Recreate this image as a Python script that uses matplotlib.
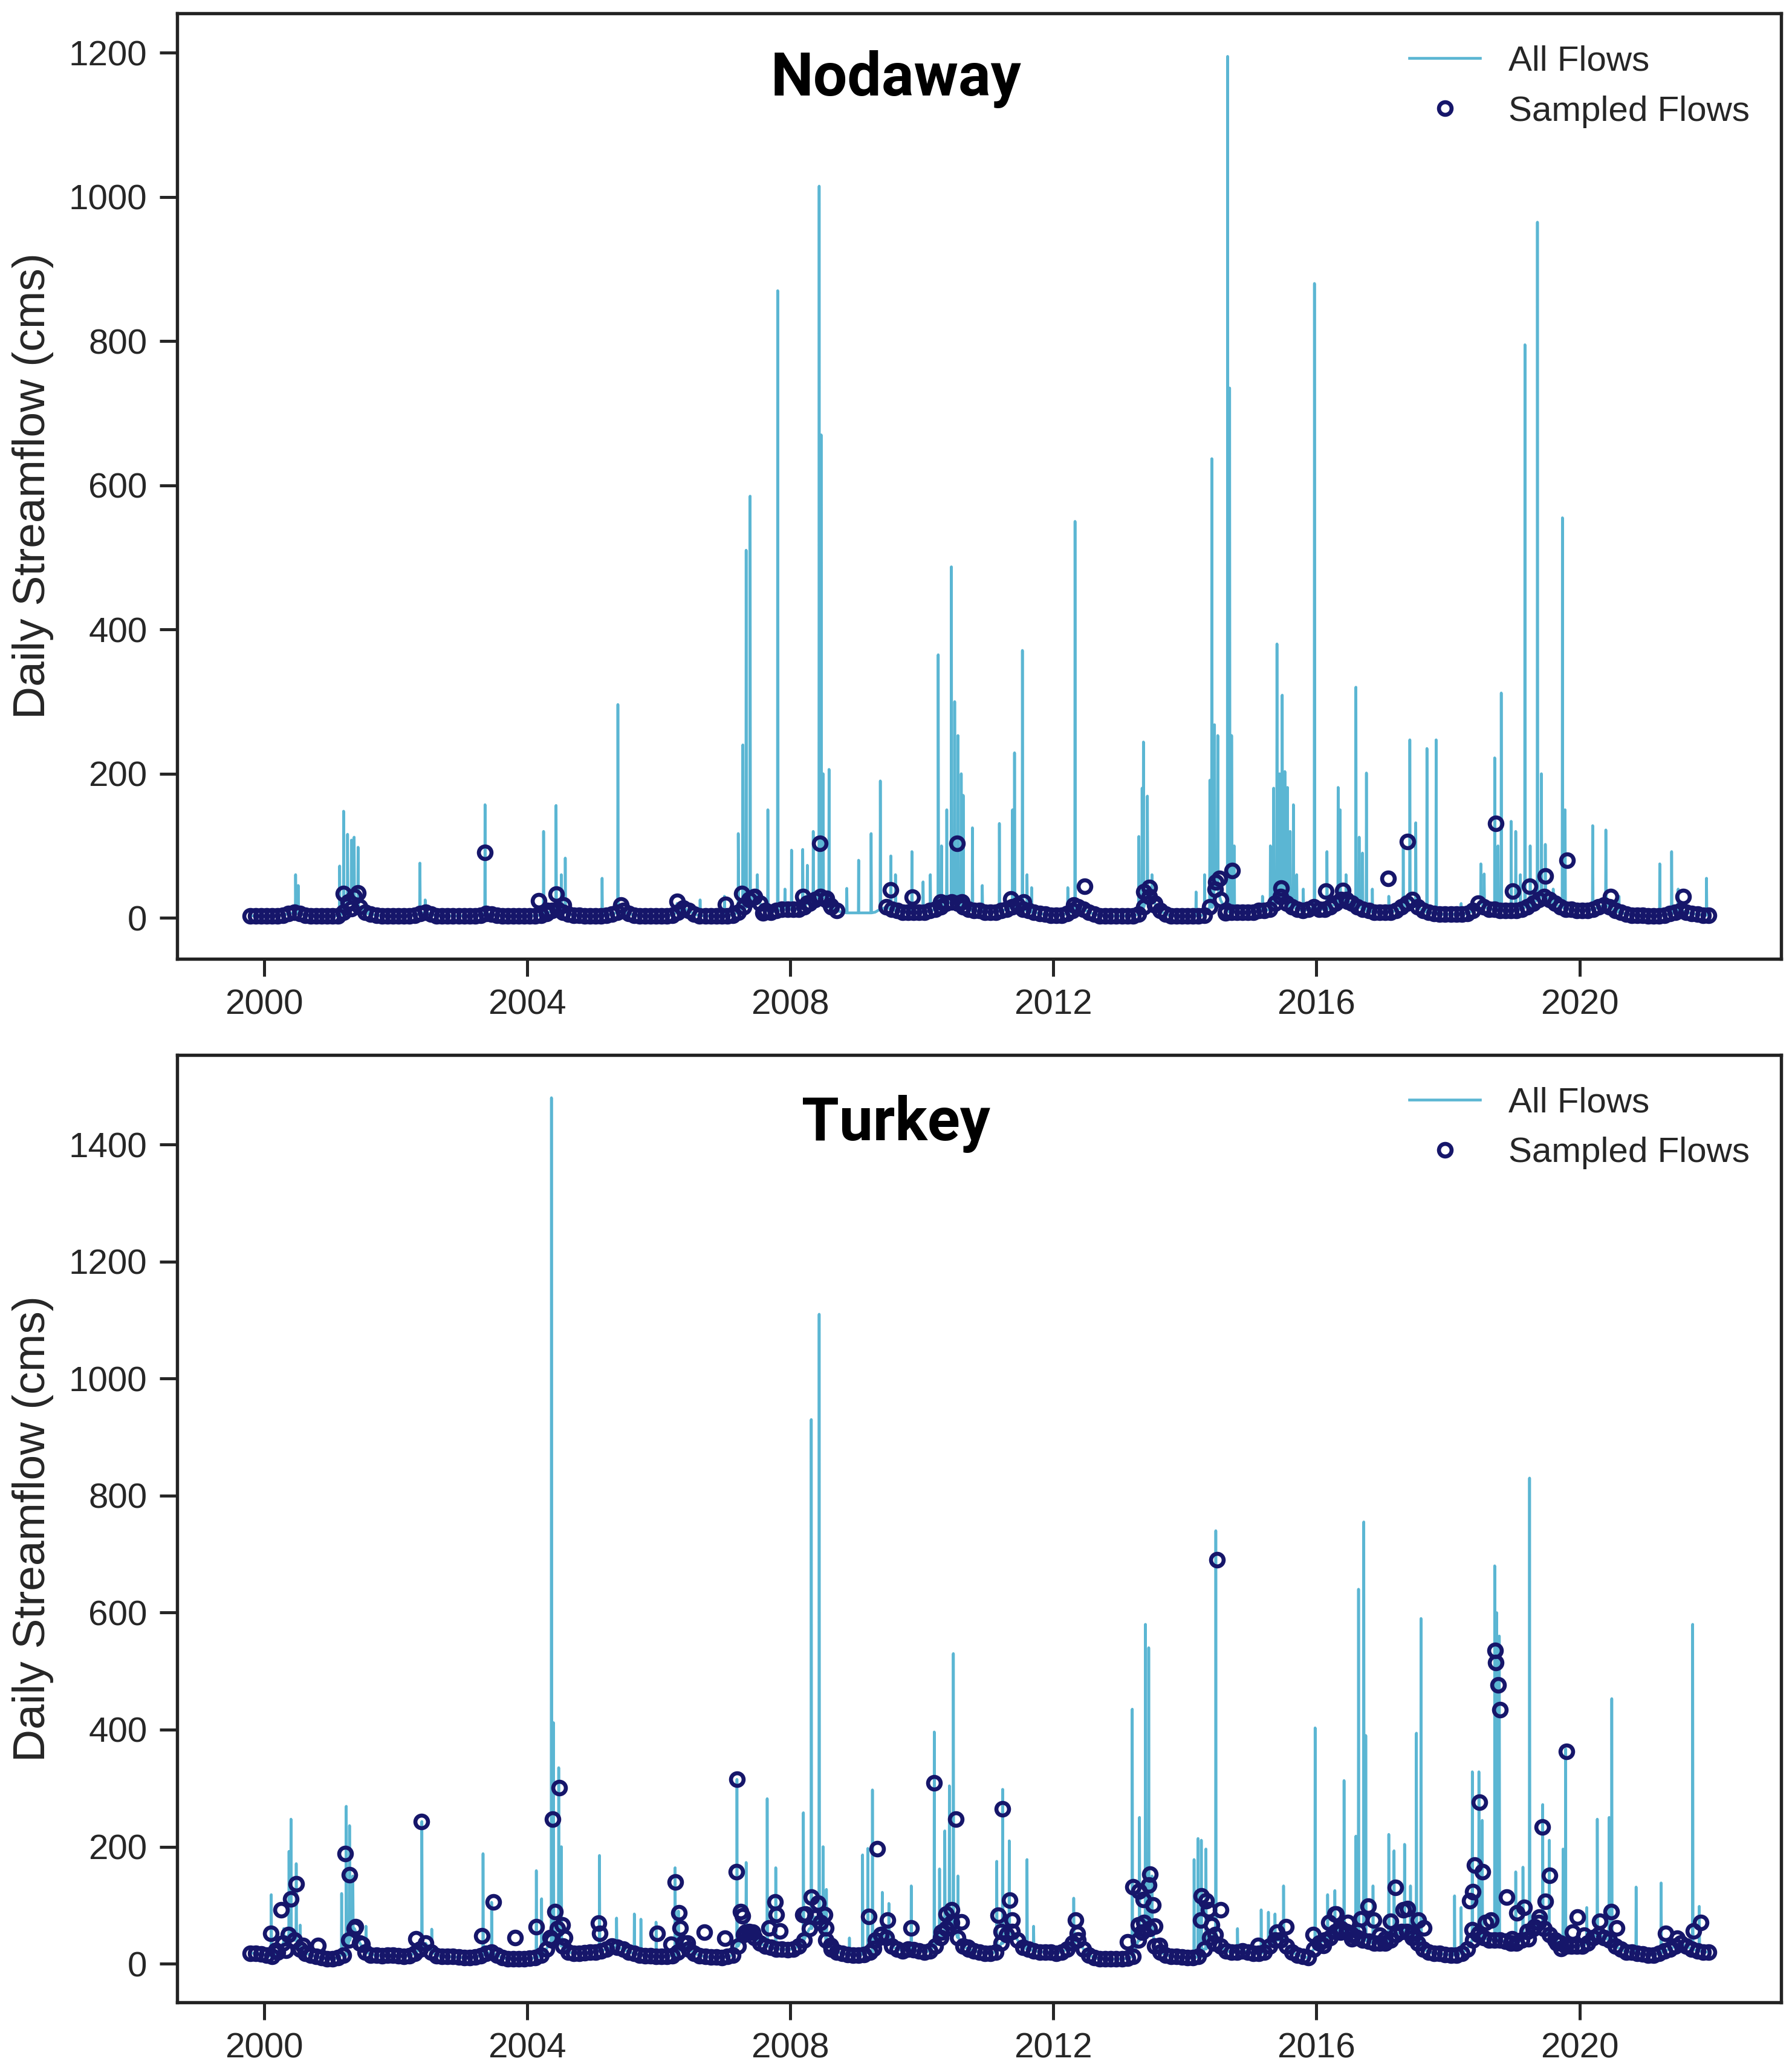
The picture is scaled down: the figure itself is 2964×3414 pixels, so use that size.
import numpy as np
import matplotlib
matplotlib.use("Agg")
import matplotlib.pyplot as plt
from matplotlib.ticker import MultipleLocator, FormatStrFormatter

plt.rcParams['font.family'] = ['Liberation Sans', 'DejaVu Sans']

# ---- Nodaway: monthly base flow (cms), Oct 1999 .. Dec 2021 ----
nod_base = [
    [3, 3, 3],                                      # 1999 Oct-Dec
    [3, 3, 3, 4, 6, 8, 6, 4, 3, 3, 3, 3],           # 2000
    [3, 3, 8, 20, 30, 15, 8, 5, 4, 3, 3, 3],        # 2001
    [3, 3, 3, 4, 6, 8, 5, 3, 3, 3, 3, 3],           # 2002
    [3, 3, 3, 4, 6, 5, 4, 3, 3, 3, 3, 3],           # 2003
    [3, 3, 4, 6, 10, 12, 8, 5, 4, 4, 3, 3],         # 2004
    [3, 3, 4, 5, 8, 10, 6, 4, 3, 3, 3, 3],          # 2005
    [3, 3, 4, 8, 14, 10, 5, 3, 3, 3, 3, 3],         # 2006
    [3, 4, 8, 15, 25, 30, 20, 10, 8, 10, 12, 12],   # 2007
    [12, 12, 15, 20, 25, 30, 25, 15, 10, 8, 7, 7],  # 2008
    [7, 7, 7, 8, 12, 15, 12, 10, 8, 8, 8, 8],       # 2009
    [8, 10, 12, 15, 20, 22, 20, 15, 12, 10, 10, 8], # 2010
    [8, 8, 10, 12, 15, 18, 12, 10, 8, 6, 5, 4],     # 2011
    [4, 4, 6, 10, 15, 12, 8, 5, 3, 3, 3, 3],        # 2012
    [3, 3, 3, 5, 15, 30, 20, 10, 5, 3, 3, 3],       # 2013
    [3, 3, 3, 4, 15, 40, 25, 10, 8, 8, 8, 8],       # 2014
    [8, 10, 10, 12, 20, 30, 20, 15, 12, 10, 12, 15],# 2015
    [12, 12, 15, 20, 25, 25, 20, 15, 12, 10, 8, 8], # 2016
    [8, 8, 10, 15, 20, 25, 15, 10, 8, 6, 5, 5],     # 2017
    [5, 5, 5, 6, 10, 20, 15, 12, 12, 10, 10, 10],   # 2018
    [10, 12, 15, 20, 25, 30, 25, 20, 15, 12, 12, 10],# 2019
    [10, 10, 12, 15, 18, 15, 10, 8, 5, 4, 4, 4],    # 2020
    [3, 3, 3, 4, 6, 8, 10, 8, 6, 5, 4, 4],          # 2021
]
# months with no samples (decimal-year ranges)
nod_no_sample = [(2008.72, 2009.40)]

nod_peak_x = [2000.48, 2000.52, 2001.15, 2001.21, 2001.27, 2001.33, 2001.37, 2001.43, 2001.60,
              2002.37, 2002.45, 2003.36, 2004.25, 2004.44, 2004.52, 2004.58, 2005.14, 2005.38,
              2006.28, 2006.63, 2007.00, 2007.21, 2007.28, 2007.33, 2007.39, 2007.50, 2007.66,
              2007.81, 2007.92, 2008.02, 2008.19, 2008.26, 2008.35, 2008.44, 2008.47, 2008.50,
              2008.59, 2008.86, 2009.04, 2009.23, 2009.37, 2009.53, 2009.60, 2009.85, 2010.02,
              2010.13, 2010.25, 2010.30, 2010.38, 2010.45, 2010.50, 2010.55, 2010.60, 2010.63,
              2010.77, 2010.92, 2011.18, 2011.38, 2011.41, 2011.53, 2011.60, 2011.67, 2012.22,
              2012.33, 2013.30, 2013.35, 2013.37, 2013.43, 2013.50, 2014.17, 2014.30, 2014.38,
              2014.41, 2014.45, 2014.50, 2014.65, 2014.68, 2014.71, 2014.75, 2015.18, 2015.30,
              2015.35, 2015.40, 2015.44, 2015.48, 2015.52, 2015.56, 2015.60, 2015.65, 2015.70,
              2015.80, 2015.97, 2016.16, 2016.33, 2016.36, 2016.45, 2016.60, 2016.65, 2016.70,
              2016.76, 2016.85, 2017.10, 2017.32, 2017.42, 2017.51, 2017.68, 2017.82, 2018.20,
              2018.50, 2018.55, 2018.71, 2018.76, 2018.81, 2018.96, 2019.03, 2019.10, 2019.17,
              2019.25, 2019.36, 2019.42, 2019.48, 2019.60, 2019.74, 2019.78, 2020.20, 2020.40,
              2020.60, 2021.22, 2021.40, 2021.50, 2021.93]
nod_peak_y = [60, 45, 72, 148, 116, 108, 112, 98, 15,
              76, 25, 157, 120, 156, 60, 83, 55, 296,
              20, 25, 30, 117, 240, 510, 585, 60, 150,
              870, 40, 94, 95, 73, 120, 1015, 670, 200,
              206, 41, 80, 117, 190, 86, 60, 92, 50,
              60, 365, 100, 150, 487, 300, 253, 200, 170,
              125, 45, 131, 150, 229, 371, 60, 42, 42,
              550, 113, 180, 244, 169, 60, 36, 60, 191,
              637, 268, 253, 1195, 735, 253, 100, 30, 100,
              180, 380, 200, 309, 203, 181, 120, 157, 60,
              40, 880, 92, 181, 150, 60, 320, 112, 90,
              201, 40, 30, 100, 247, 132, 235, 247, 20,
              75, 61, 222, 100, 312, 134, 120, 60, 795,
              100, 965, 200, 102, 40, 555, 150, 128, 122,
              30, 75, 92, 40, 55]

nod_samp_x = [2001.21, 2001.28, 2001.33, 2001.43, 2003.36, 2004.18, 2004.30, 2004.44, 2004.55,
              2005.43, 2006.28, 2007.02, 2007.26, 2007.45, 2007.59, 2008.19, 2008.26, 2008.45,
              2008.55, 2008.62, 2009.53, 2009.86, 2010.29, 2010.54, 2010.61, 2011.35, 2011.55,
              2012.31, 2012.48, 2013.38, 2013.46, 2013.54, 2014.47, 2014.53, 2014.62, 2014.72,
              2015.46, 2016.14, 2016.40, 2016.47, 2017.09, 2017.38, 2018.73, 2018.98, 2019.24,
              2019.48, 2019.81, 2020.47, 2021.58]
nod_samp_y = [34, 22, 13, 35, 91, 24, 10, 33, 18,
              18, 23, 19, 34, 29, 7, 30, 20, 103,
              27, 17, 39, 29, 22, 103, 22, 26, 22,
              18, 44, 36, 42, 18, 50, 55, 7, 66,
              41, 37, 38, 23, 55, 106, 131, 37, 44,
              58, 80, 30, 30]

# ---- Turkey: monthly base flow (cms), Oct 1999 .. Dec 2021 ----
tur_base = [
    [18, 18, 17],                                        # 1999 Oct-Dec
    [15, 12, 20, 35, 50, 40, 25, 18, 15, 12, 10, 8],     # 2000
    [8, 10, 15, 40, 60, 35, 20, 15, 15, 14, 15, 15],     # 2001
    [14, 13, 14, 18, 25, 35, 20, 14, 12, 12, 12, 11],    # 2002
    [10, 10, 11, 14, 18, 20, 15, 10, 8, 8, 8, 8],        # 2003
    [9, 10, 15, 25, 40, 60, 30, 20, 18, 18, 19, 20],     # 2004
    [20, 22, 25, 30, 28, 25, 20, 18, 15, 14, 14, 13],    # 2005
    [12, 12, 14, 20, 35, 25, 18, 14, 12, 11, 11, 10],    # 2006
    [12, 15, 30, 50, 55, 45, 35, 30, 28, 25, 25, 24],    # 2007
    [25, 30, 40, 60, 80, 70, 40, 25, 20, 18, 16, 15],    # 2008
    [15, 16, 20, 40, 50, 45, 30, 25, 22, 25, 24, 22],    # 2009
    [20, 22, 30, 45, 60, 70, 45, 30, 25, 22, 20, 18],    # 2010
    [18, 20, 35, 50, 55, 40, 28, 25, 22, 20, 20, 20],    # 2011
    [18, 20, 25, 35, 40, 25, 15, 10, 8, 8, 8, 8],        # 2012
    [8, 9, 12, 40, 70, 60, 30, 20, 15, 13, 12, 11],      # 2013
    [10, 10, 12, 25, 45, 50, 30, 22, 20, 20, 22, 20],    # 2014
    [18, 18, 20, 30, 40, 40, 30, 20, 15, 12, 10, 25],    # 2015
    [35, 40, 45, 55, 60, 55, 50, 45, 40, 38, 35, 35],    # 2016
    [35, 40, 50, 55, 55, 45, 35, 25, 20, 18, 18, 16],    # 2017
    [15, 15, 18, 25, 40, 50, 45, 40, 40, 40, 38, 35],    # 2018
    [35, 40, 55, 60, 70, 60, 50, 40, 35, 30, 30, 30],    # 2019
    [30, 35, 45, 50, 45, 40, 30, 25, 20, 20, 18, 17],    # 2020
    [15, 15, 18, 22, 25, 30, 35, 30, 25, 22, 20, 20],    # 2021
]
tur_no_sample = []

tur_peak_x = [2000.11, 2000.30, 2000.38, 2000.41, 2000.49, 2000.55, 2001.18, 2001.25, 2001.30,
              2001.35, 2001.55, 2002.40, 2002.55, 2003.33, 2003.46, 2004.14, 2004.22, 2004.37,
              2004.40, 2004.48, 2004.52, 2005.10, 2005.36, 2005.63, 2005.73, 2005.96, 2006.25,
              2006.30, 2007.19, 2007.33, 2007.65, 2007.78, 2008.20, 2008.32, 2008.44, 2008.50,
              2008.55, 2008.90, 2009.10, 2009.18, 2009.25, 2009.40, 2009.50, 2009.84, 2010.19,
              2010.27, 2010.35, 2010.42, 2010.48, 2010.55, 2011.14, 2011.23, 2011.33, 2011.60,
              2011.70, 2012.31, 2013.20, 2013.31, 2013.40, 2013.45, 2013.50, 2014.14, 2014.20,
              2014.25, 2014.32, 2014.47, 2014.80, 2015.16, 2015.27, 2015.37, 2015.50, 2015.98,
              2016.17, 2016.28, 2016.42, 2016.60, 2016.64, 2016.72, 2016.75, 2016.86, 2017.10,
              2017.18, 2017.34, 2017.43, 2017.52, 2017.59, 2018.10, 2018.20, 2018.37, 2018.47,
              2018.52, 2018.71, 2018.74, 2018.78, 2019.03, 2019.14, 2019.24, 2019.44, 2019.54,
              2019.75, 2019.79, 2020.11, 2020.27, 2020.45, 2020.49, 2020.86, 2021.24, 2021.72,
              2021.82]
tur_peak_y = [118, 60, 192, 247, 171, 66, 120, 269, 236,
              150, 64, 243, 59, 188, 105, 159, 111, 1480,
              412, 335, 200, 185, 78, 85, 76, 71, 164,
              90, 315, 173, 282, 164, 258, 930, 1110, 200,
              127, 44, 186, 197, 297, 122, 103, 133, 396,
              162, 227, 304, 530, 150, 175, 298, 210, 178,
              64, 112, 435, 250, 580, 540, 150, 178, 214,
              211, 196, 740, 60, 92, 88, 85, 133, 403,
              118, 125, 313, 218, 640, 755, 390, 133, 221,
              193, 204, 133, 394, 590, 116, 96, 328, 328,
              245, 680, 600, 560, 157, 165, 830, 272, 211,
              196, 367, 96, 247, 250, 453, 131, 138, 580,
              98]

tur_samp_x = [2000.10, 2000.18, 2000.26, 2000.33, 2000.41, 2000.49, 2000.59, 2000.82, 2001.23,
              2001.30, 2001.39, 2001.49, 2002.31, 2002.39, 2003.31, 2003.49, 2003.82, 2004.14,
              2004.35, 2004.39, 2004.42, 2004.49, 2004.53, 2004.57, 2005.09, 2005.10, 2005.98,
              2006.19, 2006.25, 2006.31, 2006.33, 2006.44, 2006.69, 2007.01, 2007.18, 2007.19,
              2007.25, 2007.27, 2007.32, 2007.43, 2007.68, 2007.77, 2007.79, 2007.84, 2008.19,
              2008.23, 2008.32, 2008.42, 2008.52, 2008.54, 2008.62, 2009.19, 2009.27, 2009.32,
              2009.38, 2009.48, 2009.84, 2010.19, 2010.30, 2010.37, 2010.45, 2010.52, 2010.60,
              2010.70, 2011.16, 2011.21, 2011.23, 2011.34, 2011.37, 2012.34, 2012.37, 2013.13,
              2013.21, 2013.29, 2013.30, 2013.35, 2013.37, 2013.45, 2013.47, 2013.51, 2013.54,
              2013.62, 2014.24, 2014.25, 2014.32, 2014.36, 2014.41, 2014.44, 2014.49, 2014.54,
              2015.11, 2015.40, 2015.54, 2015.95, 2016.11, 2016.19, 2016.28, 2016.30, 2016.36,
              2016.47, 2016.54, 2016.63, 2016.68, 2016.79, 2016.87, 2016.96, 2017.04, 2017.13,
              2017.20, 2017.32, 2017.38, 2017.46, 2017.55, 2017.63, 2018.33, 2018.37, 2018.38,
              2018.40, 2018.47, 2018.48, 2018.52, 2018.57, 2018.65, 2018.72, 2018.73, 2018.76,
              2018.79, 2018.89, 2018.97, 2019.05, 2019.16, 2019.22, 2019.31, 2019.39, 2019.43,
              2019.48, 2019.54, 2019.65, 2019.72, 2019.80, 2019.89, 2019.97, 2020.07, 2020.31,
              2020.48, 2020.56, 2021.31, 2021.48, 2021.73, 2021.84]
tur_samp_y = [52, 23, 92, 23, 111, 136, 31, 31, 188,
              152, 63, 33, 42, 243, 48, 105, 45, 63,
              45, 247, 89, 301, 66, 45, 69, 52, 52,
              33, 140, 87, 61, 35, 54, 44, 157, 315,
              89, 82, 54, 54, 61, 105, 84, 56, 84,
              85, 114, 103, 84, 61, 31, 81, 26, 196,
              49, 75, 61, 309, 54, 85, 92, 247, 71,
              28, 83, 55, 265, 109, 74, 74, 52, 37,
              131, 66, 124, 54, 110, 134, 153, 100, 64,
              31, 75, 116, 108, 92, 66, 35, 690, 92,
              31, 54, 63, 50, 31, 70, 85, 85, 54,
              70, 42, 56, 77, 98, 75, 49, 42, 72,
              130, 92, 94, 52, 74, 61, 108, 58, 123,
              169, 52, 276, 157, 70, 74, 535, 515, 476,
              434, 114, 42, 87, 96, 42, 63, 80, 234,
              107, 151, 35, 26, 363, 54, 80, 49, 72,
              89, 61, 52, 44, 56, 70]

line_color = '#5bb6d3'
dot_color = '#16166a'
text_color = '#262626'


def month_axis(base):
    vals = np.array([v for row in base for v in row], dtype=float)
    idx = np.arange(len(vals)) + 9  # first month is October 1999
    x = 1999 + (idx + 0.5) / 12.0
    return x, vals


def flow_line(bx, by, px, py):
    xs, ys = list(bx), list(by)
    for t, v in zip(px, py):
        b = by[np.argmin(np.abs(bx - t))]
        xs += [t - 0.004, t, t + 0.006]
        ys += [b, v, b]
    order = np.argsort(xs, kind='stable')
    return np.array(xs)[order], np.array(ys)[order]


def draw_panel(ax, name, base, no_sample, px, py, sx, sy, title_y):
    bx, by = month_axis(base)
    lx, ly = flow_line(bx, by, px, py)
    ax.plot(lx, ly, color=line_color, lw=1.1, label='All Flows', zorder=2)

    keep = np.ones(len(bx), dtype=bool)
    for a, b in no_sample:
        keep &= ~((bx > a) & (bx < b))
    smp_x = np.concatenate([bx[keep], sx])
    smp_y = np.concatenate([by[keep], sy])
    ax.plot(smp_x, smp_y, ls='none', marker='o', ms=5.0, mew=1.6,
            mec=dot_color, mfc='none', label='Sampled Flows', zorder=3)

    ax.xaxis.set_major_locator(MultipleLocator(4))
    ax.xaxis.set_major_formatter(FormatStrFormatter('%d'))
    ax.yaxis.set_major_locator(MultipleLocator(200))
    ax.set_ylabel('Daily Streamflow (cms)', fontsize=18, color=text_color, labelpad=6)
    ax.tick_params(direction='out', length=7, width=1.2, labelsize=14, pad=5,
                   color=text_color, labelcolor=text_color)
    for s in ax.spines.values():
        s.set_color('#222222')
        s.set_linewidth(1.3)
    ax.legend(loc='upper right', frameon=False, fontsize=14, labelcolor=text_color)
    ax.figure.text(0.5, title_y, name, ha='center', va='center', fontsize=24,
                   fontweight='bold', family=['Roboto', 'DejaVu Sans'])


fig = plt.figure(figsize=(9.88, 11.38), dpi=300)
ax1 = fig.add_axes([0.099, 0.5355, 0.895, 0.458])
ax2 = fig.add_axes([0.099, 0.030, 0.895, 0.459])

draw_panel(ax1, 'Nodaway', nod_base, nod_no_sample, nod_peak_x, nod_peak_y,
           nod_samp_x, nod_samp_y, 0.9617)
draw_panel(ax2, 'Turkey', tur_base, tur_no_sample, tur_peak_x, tur_peak_y,
           tur_samp_x, tur_samp_y, 0.4556)

fig.savefig('out.png', dpi=300)
